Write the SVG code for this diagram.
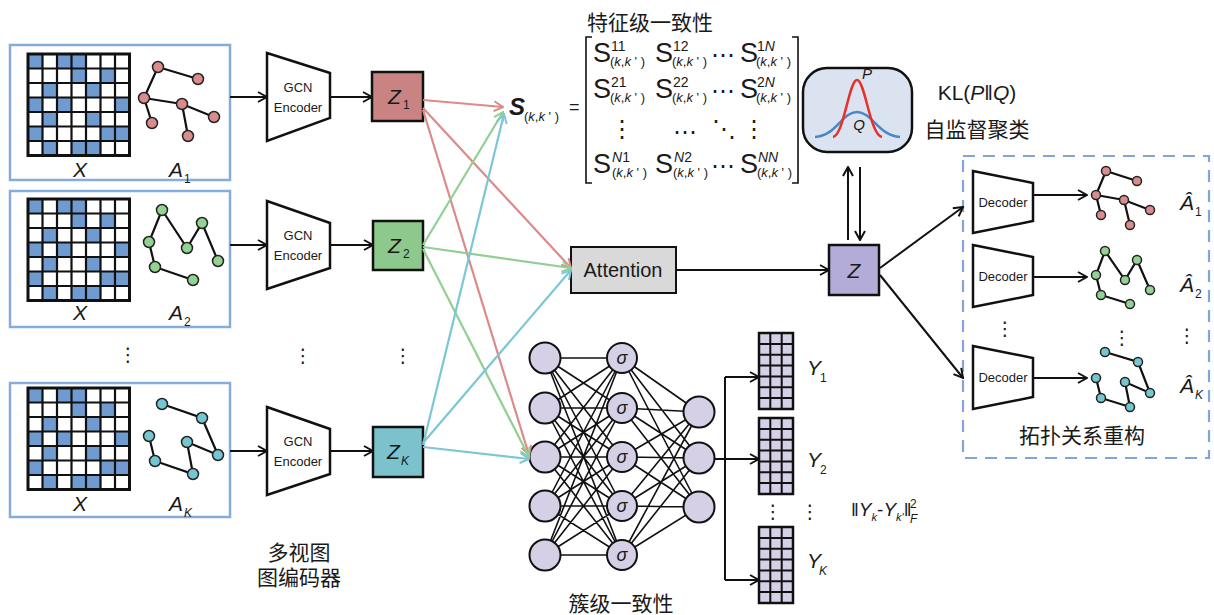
<svg xmlns="http://www.w3.org/2000/svg" xmlns:xlink="http://www.w3.org/1999/xlink" width="1214" height="615" viewBox="0 0 1214 615">
  <style>
    .lat { font-family: "Liberation Sans", Arial, sans-serif; fill: #1a1a1a; }
    .cjk { font-family: "Liberation Sans", "Noto Sans CJK SC", sans-serif; font-size: 21px; fill: #1a1a1a; text-anchor: middle; }
    .it { font-style: italic; }
    .dots { font-family: "DejaVu Sans", sans-serif; font-size: 19px; fill: #1a1a1a; text-anchor: middle; dominant-baseline: central; }
    .hdots { font-family: "DejaVu Sans", sans-serif; font-size: 24px; fill: #1a1a1a; text-anchor: middle; dominant-baseline: central; }
    .panel { fill: #fff; stroke: #86acdc; stroke-width: 2.5; }
    .edge { stroke: #111; stroke-width: 2.2; fill: none; }
    .blk { stroke: #111; stroke-width: 2; fill: none; }
    .trap { fill: #fff; stroke: #111; stroke-width: 2.5; }
    .znode { stroke: #111; stroke-width: 2.5; }
    .gp { fill: #d98c8c; stroke: #222; stroke-width: 1.5; }
    .gg { fill: #92d292; stroke: #222; stroke-width: 1.5; }
    .gc { fill: #76c6d2; stroke: #222; stroke-width: 1.5; }
    .pink { stroke: #dc8a8a; stroke-width: 2.2; fill: none; }
    .green { stroke: #92cf92; stroke-width: 2.2; fill: none; }
    .cyan { stroke: #7cc6d6; stroke-width: 2.2; fill: none; }
    .neuron { fill: #d6d0e6; stroke: #111; stroke-width: 2; }
    .nnl { stroke: #111; stroke-width: 1.6; }
    .ms { font-family: "Liberation Sans", Arial, sans-serif; font-size: 27px; fill: #1a1a1a; }
    .msup { font-family: "Liberation Sans", Arial, sans-serif; font-size: 14px; fill: #1a1a1a; }
    .msub { font-family: "Liberation Sans", Arial, sans-serif; font-size: 13px; fill: #1a1a1a; }
  </style>
  <defs>
    <marker id="ah" markerUnits="userSpaceOnUse" markerWidth="12" markerHeight="12" viewBox="0 0 12 12" refX="11" refY="6" orient="auto">
      <path d="M2,1 L11,6 L2,11" fill="none" stroke="#111" stroke-width="2"/>
    </marker>
    <marker id="ahp" markerUnits="userSpaceOnUse" markerWidth="12" markerHeight="12" viewBox="0 0 12 12" refX="11" refY="6" orient="auto">
      <path d="M2,1 L11,6 L2,11" fill="none" stroke="#dc8a8a" stroke-width="2"/>
    </marker>
    <marker id="ahg" markerUnits="userSpaceOnUse" markerWidth="12" markerHeight="12" viewBox="0 0 12 12" refX="11" refY="6" orient="auto">
      <path d="M2,1 L11,6 L2,11" fill="none" stroke="#92cf92" stroke-width="2"/>
    </marker>
    <marker id="ahc" markerUnits="userSpaceOnUse" markerWidth="12" markerHeight="12" viewBox="0 0 12 12" refX="11" refY="6" orient="auto">
      <path d="M2,1 L11,6 L2,11" fill="none" stroke="#7cc6d6" stroke-width="2"/>
    </marker>

    <!-- 7x7 feature matrix X -->
    <g id="xgrid">
      <rect x="0" y="0" width="101.5" height="101.5" fill="#fff"/>
      <g fill="#6f9bd1">
        <rect x="0" y="0" width="14.5" height="14.5"/><rect x="29" y="0" width="14.5" height="14.5"/><rect x="43.5" y="0" width="14.5" height="14.5"/>
        <rect x="43.5" y="14.5" width="14.5" height="14.5"/><rect x="72.5" y="14.5" width="14.5" height="14.5"/>
        <rect x="14.5" y="29" width="14.5" height="14.5"/><rect x="58" y="29" width="14.5" height="14.5"/>
        <rect x="0" y="43.5" width="14.5" height="14.5"/><rect x="29" y="43.5" width="14.5" height="14.5"/><rect x="87" y="43.5" width="14.5" height="14.5"/>
        <rect x="14.5" y="58" width="14.5" height="14.5"/><rect x="58" y="58" width="14.5" height="14.5"/>
        <rect x="0" y="72.5" width="14.5" height="14.5"/><rect x="72.5" y="72.5" width="14.5" height="14.5"/><rect x="87" y="72.5" width="14.5" height="14.5"/>
        <rect x="14.5" y="87" width="14.5" height="14.5"/><rect x="43.5" y="87" width="14.5" height="14.5"/><rect x="58" y="87" width="14.5" height="14.5"/>
      </g>
      <path d="M14.5,0V101.5M29,0V101.5M43.5,0V101.5M58,0V101.5M72.5,0V101.5M87,0V101.5M0,14.5H101.5M0,29H101.5M0,43.5H101.5M0,58H101.5M0,72.5H101.5M0,87H101.5" stroke="#111" stroke-width="2.2" fill="none"/>
      <rect x="0" y="0" width="101.5" height="101.5" fill="none" stroke="#111" stroke-width="3"/>
    </g>

    <!-- 7x3 cluster assignment matrix Y -->
    <g id="ymat">
      <rect x="0" y="0" width="34" height="76" fill="#d6d0e6"/>
      <path d="M11.3,0V76M22.7,0V76M0,10.9H34M0,21.7H34M0,32.6H34M0,43.4H34M0,54.3H34M0,65.1H34" stroke="#111" stroke-width="2" fill="none"/>
      <rect x="0" y="0" width="34" height="76" fill="none" stroke="#111" stroke-width="2.5"/>
    </g>
  </defs>

  <rect width="1214" height="615" fill="#fff"/>

  <!-- input views -->
  <g id="view1">
    <rect class="panel" x="10" y="45" width="220" height="135"/>
    <use xlink:href="#xgrid" x="28" y="54"/>
    <text class="lat it" x="80" y="177" font-size="21" text-anchor="middle">X</text>
    <text class="lat it" x="169" y="177" font-size="21">A</text>
    <text class="lat" x="184" y="183" font-size="12">1</text>
    <path class="edge" d="M158,67L198,79M158,67L144,98L182,104L214,117M144,98L152,123M182,104L188,136"/>
    <g class="gp">
      <circle cx="158" cy="67" r="5.5"/><circle cx="198" cy="79" r="5.5"/><circle cx="144" cy="98" r="5.5"/>
      <circle cx="182" cy="104" r="5.5"/><circle cx="214" cy="117" r="5.5"/><circle cx="152" cy="123" r="5.5"/><circle cx="188" cy="136" r="5.5"/>
    </g>
  </g>
  <g id="view2">
    <rect class="panel" x="10" y="191" width="220" height="136"/>
    <use xlink:href="#xgrid" x="28" y="199"/>
    <text class="lat it" x="80" y="320" font-size="21" text-anchor="middle">X</text>
    <text class="lat it" x="169" y="320" font-size="21">A</text>
    <text class="lat" x="184" y="326" font-size="12">2</text>
    <path class="edge" d="M162,210L149,242L155,267L193,280M162,210L187,248L202,223L218,261"/>
    <g class="gg">
      <circle cx="162" cy="210" r="5.5"/><circle cx="149" cy="242" r="5.5"/><circle cx="187" cy="248" r="5.5"/>
      <circle cx="202" cy="223" r="5.5"/><circle cx="218" cy="261" r="5.5"/><circle cx="155" cy="267" r="5.5"/><circle cx="193" cy="280" r="5.5"/>
    </g>
  </g>
  <g id="view3">
    <rect class="panel" x="10" y="383" width="220" height="134"/>
    <use xlink:href="#xgrid" x="28" y="388"/>
    <text class="lat it" x="80" y="511" font-size="21" text-anchor="middle">X</text>
    <text class="lat it" x="169" y="511" font-size="21">A</text>
    <text class="lat it" x="184" y="517" font-size="12">K</text>
    <path class="edge" d="M162,404L202,418L218,455L187,442L193,474L155,461L149,436"/>
    <g class="gc">
      <circle cx="162" cy="404" r="5.5"/><circle cx="202" cy="418" r="5.5"/><circle cx="149" cy="436" r="5.5"/>
      <circle cx="187" cy="442" r="5.5"/><circle cx="218" cy="455" r="5.5"/><circle cx="155" cy="461" r="5.5"/><circle cx="193" cy="474" r="5.5"/>
    </g>
  </g>
  <text class="dots" x="128" y="354">⋮</text>

  <!-- GCN encoders -->
  <g id="enc1">
    <polygon class="trap" points="267,53 330,73 330,118 267,141"/>
    <text class="lat" x="298" y="92" font-size="13" text-anchor="middle">GCN</text>
    <text class="lat" x="298" y="112" font-size="13" text-anchor="middle">Encoder</text>
  </g>
  <g id="enc2">
    <polygon class="trap" points="267,201 330,223 330,268 267,289"/>
    <text class="lat" x="298" y="240" font-size="13" text-anchor="middle">GCN</text>
    <text class="lat" x="298" y="260" font-size="13" text-anchor="middle">Encoder</text>
  </g>
  <g id="enc3">
    <polygon class="trap" points="267,407 330,429 330,474 267,495"/>
    <text class="lat" x="298" y="446" font-size="13" text-anchor="middle">GCN</text>
    <text class="lat" x="298" y="466" font-size="13" text-anchor="middle">Encoder</text>
  </g>
  <text class="dots" x="303" y="355">⋮</text>
  <text class="cjk" x="299" y="560">多视图</text>
  <text class="cjk" x="299" y="585">图编码器</text>

  <!-- view embeddings -->
  <g id="z1">
    <rect class="znode" x="372" y="72" width="51" height="49" fill="#c98383"/>
    <text class="lat it" x="388" y="104" font-size="21">Z</text>
    <text class="lat" x="403" y="109" font-size="12">1</text>
  </g>
  <g id="z2">
    <rect class="znode" x="373" y="221" width="50" height="49" fill="#8dc88d"/>
    <text class="lat it" x="388" y="253" font-size="21">Z</text>
    <text class="lat" x="403" y="258" font-size="12">2</text>
  </g>
  <g id="zk">
    <rect class="znode" x="373" y="427" width="50" height="50" fill="#7cc2cd"/>
    <text class="lat it" x="387" y="459" font-size="21">Z</text>
    <text class="lat it" x="401" y="465" font-size="12">K</text>
  </g>
  <text class="dots" x="403" y="355">⋮</text>

  <!-- feature-level consistency -->
  <g id="simmat">
    <text class="cjk" x="650" y="30">特征级一致性</text>
    <text class="lat it" x="509" y="115" font-size="24" font-weight="bold">S</text>
    <text class="lat" x="524" y="121" font-size="13">(<tspan class="it">k</tspan>,<tspan class="it">k</tspan> ' )</text>
    <text class="lat" x="569" y="113" font-size="18">=</text>
    <path d="M592,37H586V183H592M792,37H798V183H792" stroke="#111" stroke-width="1.6" fill="none"/>
    <!-- row 1 -->
    <text class="ms" x="593" y="62">S</text><text class="msup" x="611" y="51">11</text><text class="msub" x="610" y="66">(<tspan class="it">k</tspan>,<tspan class="it">k</tspan> ' )</text>
    <text class="ms" x="655" y="62">S</text><text class="msup" x="673" y="51">12</text><text class="msub" x="672" y="66">(<tspan class="it">k</tspan>,<tspan class="it">k</tspan> ' )</text>
    <text class="ms" x="740" y="62">S</text><text class="msup" x="757" y="51">1<tspan class="it">N</tspan></text><text class="msub" x="756" y="66">(<tspan class="it">k</tspan>,<tspan class="it">k</tspan> ' )</text>
    <text class="hdots" x="723" y="55">⋯</text>
    <!-- row 2 -->
    <text class="ms" x="593" y="98">S</text><text class="msup" x="611" y="87">21</text><text class="msub" x="610" y="102">(<tspan class="it">k</tspan>,<tspan class="it">k</tspan> ' )</text>
    <text class="ms" x="655" y="98">S</text><text class="msup" x="673" y="87">22</text><text class="msub" x="672" y="102">(<tspan class="it">k</tspan>,<tspan class="it">k</tspan> ' )</text>
    <text class="ms" x="740" y="98">S</text><text class="msup" x="757" y="87">2<tspan class="it">N</tspan></text><text class="msub" x="756" y="102">(<tspan class="it">k</tspan>,<tspan class="it">k</tspan> ' )</text>
    <text class="hdots" x="723" y="91">⋯</text>
    <!-- row 3 -->
    <text class="hdots" x="622" y="129">⋮</text>
    <text class="hdots" x="685" y="132">⋯</text>
    <text class="hdots" x="724" y="129">⋱</text>
    <text class="hdots" x="754" y="129">⋮</text>
    <!-- row 4 -->
    <text class="ms" x="593" y="173">S</text><text class="msup it" x="612" y="162">N<tspan font-style="normal">1</tspan></text><text class="msub" x="612" y="177">(<tspan class="it">k</tspan>,<tspan class="it">k</tspan> ' )</text>
    <text class="ms" x="655" y="173">S</text><text class="msup it" x="674" y="162">N<tspan font-style="normal">2</tspan></text><text class="msub" x="673" y="177">(<tspan class="it">k</tspan>,<tspan class="it">k</tspan> ' )</text>
    <text class="ms" x="740" y="173">S</text><text class="msup it" x="758" y="162">NN</text><text class="msub" x="757" y="177">(<tspan class="it">k</tspan>,<tspan class="it">k</tspan> ' )</text>
    <text class="hdots" x="723" y="166">⋯</text>
  </g>

  <!-- self-supervised clustering -->
  <g id="kl">
    <rect x="803" y="68" width="109" height="84" rx="24" ry="24" fill="#dce3f0" stroke="#111" stroke-width="2.5"/>
    <path d="M815,137C836,136 842,112 857,112C872,112 879,136 900,137" stroke="#4a86c8" stroke-width="2.5" fill="none"/>
    <path d="M833,137C844,135 849,80 857,80C865,80 870,135 882,137" stroke="#e8302a" stroke-width="2.5" fill="none"/>
    <text class="lat it" x="867" y="79" font-size="15" text-anchor="middle">P</text>
    <text class="lat it" x="859" y="130" font-size="15" text-anchor="middle">Q</text>
    <text class="lat" x="977" y="100" font-size="21" text-anchor="middle">KL(<tspan class="it">P</tspan>‖<tspan class="it">Q</tspan>)</text>
    <text class="cjk" x="977" y="137">自监督聚类</text>
  </g>

  <g id="attention">
    <rect x="571" y="247" width="105" height="46" fill="#d9d9d9" stroke="#111" stroke-width="2"/>
    <text class="lat" x="623" y="277" font-size="20" text-anchor="middle">Attention</text>
  </g>

  <g id="z">
    <rect class="znode" x="829" y="245" width="50" height="50" fill="#b4acd8"/>
    <text class="lat it" x="854" y="278" font-size="21" text-anchor="middle">Z</text>
  </g>

  <!-- cluster-level consistency network -->
  <g id="mlp">
    <g class="nnl">
      <path d="M545,358L622,358M545,358L622,408M545,358L622,457M545,358L622,506M545,358L622,555
               M545,408L622,358M545,408L622,408M545,408L622,457M545,408L622,506M545,408L622,555
               M545,457L622,358M545,457L622,408M545,457L622,457M545,457L622,506M545,457L622,555
               M545,506L622,358M545,506L622,408M545,506L622,457M545,506L622,506M545,506L622,555
               M545,555L622,358M545,555L622,408M545,555L622,457M545,555L622,506M545,555L622,555
               M622,358L699,412M622,358L699,458M622,358L699,507
               M622,408L699,412M622,408L699,458M622,408L699,507
               M622,457L699,412M622,457L699,458M622,457L699,507
               M622,506L699,412M622,506L699,458M622,506L699,507
               M622,555L699,412M622,555L699,458M622,555L699,507"/>
    </g>
    <circle class="neuron" cx="545" cy="358" r="15.5"/><circle class="neuron" cx="545" cy="408" r="15.5"/><circle class="neuron" cx="545" cy="457" r="15.5"/>
    <circle class="neuron" cx="545" cy="506" r="15.5"/><circle class="neuron" cx="545" cy="555" r="15.5"/>
    <circle class="neuron" cx="622" cy="358" r="15"/><circle class="neuron" cx="622" cy="408" r="15"/><circle class="neuron" cx="622" cy="457" r="15"/>
    <circle class="neuron" cx="622" cy="506" r="15"/><circle class="neuron" cx="622" cy="555" r="15"/>
    <g class="lat it" font-size="18" text-anchor="middle">
      <text x="622" y="364">σ</text><text x="622" y="414">σ</text><text x="622" y="463">σ</text><text x="622" y="512">σ</text><text x="622" y="561">σ</text>
    </g>
    <circle class="neuron" cx="699" cy="412" r="15.5"/><circle class="neuron" cx="699" cy="458" r="15.5"/><circle class="neuron" cx="699" cy="507" r="15.5"/>
    <text class="cjk" x="621" y="611">簇级一致性</text>
  </g>

  <g id="ymats">
    <use xlink:href="#ymat" x="759" y="333"/>
    <use xlink:href="#ymat" x="759" y="418"/>
    <use xlink:href="#ymat" x="759" y="527"/>
    <text class="lat it" x="807" y="375" font-size="21">Y</text><text class="lat" x="820" y="382" font-size="12">1</text>
    <text class="lat it" x="807" y="467" font-size="21">Y</text><text class="lat" x="820" y="474" font-size="12">2</text>
    <text class="lat it" x="807" y="568" font-size="21">Y</text><text class="lat it" x="819" y="575" font-size="12">K</text>
    <text class="dots" x="773" y="511">⋮</text>
    <text class="dots" x="810" y="511">⋮</text>
    <text class="lat" x="851" y="516" font-size="19">‖<tspan class="it">Y</tspan><tspan class="it" font-size="11" dy="5">k</tspan><tspan dy="-5">-</tspan><tspan class="it">Y</tspan><tspan class="it" font-size="11" dy="5">k'</tspan><tspan dy="-5">‖</tspan></text>
    <text class="lat" x="910" y="508" font-size="12">2</text>
    <text class="lat it" x="910" y="523" font-size="12">F</text>
  </g>

  <!-- topology reconstruction -->
  <g id="recon">
    <rect x="963" y="156" width="246" height="302" fill="none" stroke="#7ea6d9" stroke-width="2.2" stroke-dasharray="12 8"/>
    <text class="cjk" x="1082" y="443">拓扑关系重构</text>
  </g>
  <g id="dec1">
    <polygon class="trap" points="973,171 1033,183 1033,221 973,233"/>
    <text class="lat" x="1003" y="207" font-size="13" text-anchor="middle">Decoder</text>
  </g>
  <g id="dec2">
    <polygon class="trap" points="973,245 1033,257 1033,295 973,307"/>
    <text class="lat" x="1003" y="281" font-size="13" text-anchor="middle">Decoder</text>
  </g>
  <g id="dec3">
    <polygon class="trap" points="973,346 1033,358 1033,397 973,409"/>
    <text class="lat" x="1003" y="382" font-size="13" text-anchor="middle">Decoder</text>
  </g>
  <text class="dots" x="1005" y="328">⋮</text>

  <g id="ahat1">
    <path class="edge" d="M1106,171L1137,181M1106,171L1096,195L1124,200L1150,210M1096,195L1101,215M1124,200L1130,225"/>
    <g class="gp">
      <circle cx="1106" cy="171" r="4.5"/><circle cx="1137" cy="181" r="4.5"/><circle cx="1096" cy="195" r="4.5"/>
      <circle cx="1124" cy="200" r="4.5"/><circle cx="1150" cy="210" r="4.5"/><circle cx="1101" cy="215" r="4.5"/><circle cx="1130" cy="225" r="4.5"/>
    </g>
    <text class="lat it" x="1180" y="210" font-size="21">Â</text>
    <text class="lat" x="1195" y="216" font-size="12">1</text>
  </g>
  <g id="ahat2">
    <path class="edge" d="M1105,251L1096,275L1101,295L1130,304M1105,251L1125,280L1137,260L1150,290"/>
    <g class="gg">
      <circle cx="1105" cy="251" r="4.5"/><circle cx="1096" cy="275" r="4.5"/><circle cx="1125" cy="280" r="4.5"/>
      <circle cx="1137" cy="260" r="4.5"/><circle cx="1150" cy="290" r="4.5"/><circle cx="1101" cy="295" r="4.5"/><circle cx="1130" cy="304" r="4.5"/>
    </g>
    <text class="lat it" x="1180" y="292" font-size="21">Â</text>
    <text class="lat" x="1195" y="298" font-size="12">2</text>
  </g>
  <g id="ahatk">
    <path class="edge" d="M1105,352L1138,362L1150,393L1125,382L1130,407L1101,398L1096,378"/>
    <g class="gc">
      <circle cx="1105" cy="352" r="4.5"/><circle cx="1138" cy="362" r="4.5"/><circle cx="1096" cy="378" r="4.5"/>
      <circle cx="1125" cy="382" r="4.5"/><circle cx="1150" cy="393" r="4.5"/><circle cx="1101" cy="398" r="4.5"/><circle cx="1130" cy="407" r="4.5"/>
    </g>
    <text class="lat it" x="1180" y="393" font-size="21">Â</text>
    <text class="lat it" x="1195" y="399" font-size="12">K</text>
  </g>
  <text class="dots" x="1122" y="337">⋮</text>
  <text class="dots" x="1187" y="335">⋮</text>

  <!-- connectors -->
  <g id="connectors">
    <g class="blk" marker-end="url(#ah)">
      <path d="M230,97H267"/><path d="M230,245H267"/><path d="M230,451H267"/>
      <path d="M330,97H372"/><path d="M330,245H373"/><path d="M330,451H373"/>
      <path d="M676,270H829"/>
      <path d="M848,240V167"/><path d="M860,167V240"/>
      <path d="M880,268L963,207"/><path d="M880,275L963,378"/>
      <path d="M1033,195H1087"/><path d="M1033,277H1087"/><path d="M1033,378H1087"/>
      <path d="M725,377H759"/><path d="M725,459H759"/><path d="M725,580H759"/>
    </g>
    <path class="blk" d="M714,459H725M725,377V580"/>
    <g class="pink" marker-end="url(#ahp)">
      <path d="M423,100L503,107"/><path d="M423,108L571,268"/><path d="M423,110L529,455"/>
    </g>
    <g class="green" marker-end="url(#ahg)">
      <path d="M423,245L503,112"/><path d="M423,247L571,268"/><path d="M423,249L529,457"/>
    </g>
    <g class="cyan" marker-end="url(#ahc)">
      <path d="M423,445L504,114"/><path d="M423,443L571,270"/><path d="M423,447L529,459"/>
    </g>
  </g>
</svg>
